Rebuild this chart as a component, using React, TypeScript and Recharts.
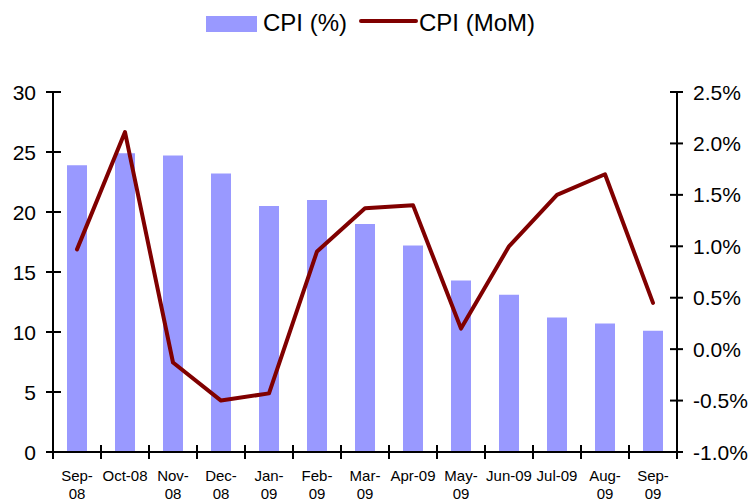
import { Bar, ComposedChart, Legend, Line, XAxis, YAxis } from "recharts";

const FONT = '"Liberation Sans", Arial, sans-serif';
const WIDTH = 754;
const HEIGHT = 503;
const LEFT_AXIS_W = 53;
const RIGHT_AXIS_W = 77;

const months = [
  "Sep-08", "Oct-08", "Nov-08", "Dec-08", "Jan-09", "Feb-09", "Mar-09",
  "Apr-09", "May-09", "Jun-09", "Jul-09", "Aug-09", "Sep-09",
];

// tick labels as Excel wrapped them
const tickLabels = [
  "Sep-\n08", "Oct-08", "Nov-\n08", "Dec-\n08", "Jan-\n09", "Feb-\n09", "Mar-\n09",
  "Apr-09", "May-\n09", "Jun-09", "Jul-09", "Aug-\n09", "Sep-\n09",
];

const cpiYoY = [23.9, 24.9, 24.7, 23.2, 20.5, 21.0, 19.0, 17.2, 14.3, 13.1, 11.2, 10.7, 10.1];
const cpiMoM = [0.97, 2.11, -0.13, -0.5, -0.43, 0.95, 1.37, 1.4, 0.2, 1.0, 1.5, 1.7, 0.45];

const leftTicks = [0, 5, 10, 15, 20, 25, 30];
const rightTicks = [-1, -0.5, 0, 0.5, 1, 1.5, 2, 2.5];

const data = months.map((m, i) => ({
  month: m,
  yoy: cpiYoY[i],
  mom: cpiMoM[i],
}));

const BAND = (WIDTH - LEFT_AXIS_W - RIGHT_AXIS_W) / months.length;

function LeftTick({ x, y, payload }: any) {
  return (
    <g>
      <line x1={x - 7} x2={x + 8} y1={y} y2={y} stroke="#000" strokeWidth={2} />
      <text x={x - 17} y={y} dy="0.36em" textAnchor="end" fontSize={21} fontFamily={FONT} fill="#000">
        {payload.value}
      </text>
    </g>
  );
}

function RightTick({ x, y, payload }: any) {
  return (
    <g>
      <line x1={x - 7} x2={x + 6} y1={y} y2={y} stroke="#000" strokeWidth={2} />
      <text x={x + 16} y={y} dy="0.36em" textAnchor="start" fontSize={21} fontFamily={FONT} fill="#000">
        {payload.value.toFixed(1) + "%"}
      </text>
    </g>
  );
}

function BottomTick({ x, y, payload, index }: any) {
  const lines = String(tickLabels[index] ?? payload.value).split("\n");
  const left = x - BAND / 2;
  return (
    <g>
      <line x1={left} x2={left} y1={y - 7} y2={y + 7} stroke="#000" strokeWidth={2} />
      {index === months.length - 1 && (
        <line x1={x + BAND / 2} x2={x + BAND / 2} y1={y - 7} y2={y + 7} stroke="#000" strokeWidth={2} />
      )}
      <text textAnchor="middle" fontSize={15} fontFamily={FONT} fill="#000">
        {lines.map((l, i) => (
          <tspan key={i} x={x} y={y + 29 + i * 18}>
            {l}
          </tspan>
        ))}
      </text>
    </g>
  );
}

function LegendContent() {
  return (
    <svg width={WIDTH} height={40} style={{ display: "block" }}>
      <rect x={206} y={16} width={51} height={16} fill="#9999FF" />
      <text x={263} y={31} fontSize={24} fontFamily={FONT} fill="#000">
        CPI (%)
      </text>
      <line x1={361} x2={416} y1={21} y2={21} stroke="#800000" strokeWidth={4} strokeLinecap="round" />
      <text x={419} y={31} fontSize={24} fontFamily={FONT} fill="#000">
        CPI (MoM)
      </text>
    </svg>
  );
}

export default function App() {
  return (
    <div style={{ position: "absolute", left: 0, top: 0, background: "#fff" }}>
      <ComposedChart
        width={WIDTH}
        height={HEIGHT}
        data={data}
        margin={{ top: 52, right: 0, bottom: 0, left: 0 }}
      >
        <Legend
          verticalAlign="top"
          align="left"
          content={<LegendContent />}
          wrapperStyle={{ top: 0, left: 0, width: WIDTH }}
        />
        <XAxis
          dataKey="month"
          height={HEIGHT - 452}
          interval={0}
          tickLine={false}
          tickSize={0}
          tickMargin={0}
          axisLine={{ stroke: "#000", strokeWidth: 2 }}
          tick={<BottomTick />}
        />
        <YAxis
          yAxisId="left"
          orientation="left"
          width={LEFT_AXIS_W}
          domain={[0, 30]}
          ticks={leftTicks}
          tickLine={false}
          tickSize={0}
          tickMargin={0}
          axisLine={{ stroke: "#000", strokeWidth: 2 }}
          tick={<LeftTick />}
        />
        <YAxis
          yAxisId="right"
          orientation="right"
          width={RIGHT_AXIS_W}
          domain={[-1, 2.5]}
          ticks={rightTicks}
          tickLine={false}
          tickSize={0}
          tickMargin={0}
          axisLine={{ stroke: "#000", strokeWidth: 2 }}
          tick={<RightTick />}
        />
        <Bar yAxisId="left" dataKey="yoy" name="CPI (%)" fill="#9999FF" barSize={20} isAnimationActive={false} />
        <Line
          yAxisId="right"
          dataKey="mom"
          name="CPI (MoM)"
          type="linear"
          stroke="#800000"
          strokeWidth={4}
          strokeLinecap="round"
          strokeLinejoin="round"
          dot={false}
          activeDot={false}
          isAnimationActive={false}
        />
      </ComposedChart>
    </div>
  );
}
